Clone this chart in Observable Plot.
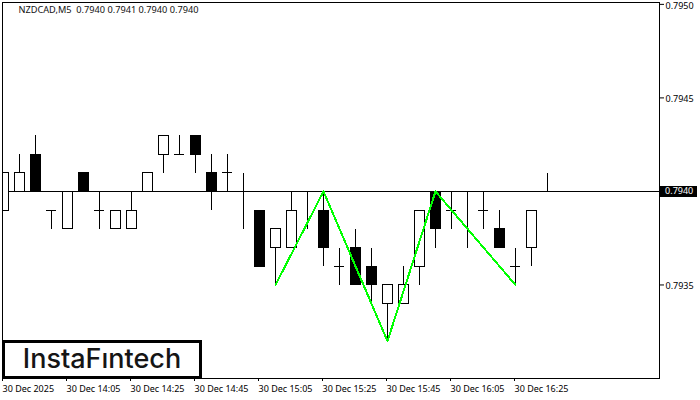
<!DOCTYPE html>
<html>
<head>
<meta charset="utf-8">
<script src="https://cdn.jsdelivr.net/npm/d3@7"></script>
<script src="https://cdn.jsdelivr.net/npm/@observablehq/plot@0.6"></script>
<style>
html,body{margin:0;padding:0;background:#fff;}
#wrap{position:relative;width:700px;height:400px;overflow:hidden;}
#logo{position:absolute;left:2px;top:340px;width:194px;height:33px;border:3px solid #000;background:#fff;
font:500 27px/31px Inter,Roboto,sans-serif;color:#151515;text-align:center;white-space:nowrap;}
</style>
</head>
<body>
<div id="wrap"><div id="logo">InstaFıntech</div></div>
<script>
const opens  = [.7939,.7940,.7942,.7939,.7938,.7941,.7939,.7938,.7938,.7940,.7942,.7942,.7943,.7941,.7941,.7940,.7939,.7937,.7937,.7940,.7939,.7936,.7937,.7936,.7934,.7934,.7936,.7940,.7939,.7940,.7939,.7938,.7936,.7937,.7940];
const closes = [.7941,.7941,.7940,.7939,.7940,.7940,.7939,.7939,.7939,.7941,.7943,.7942,.7942,.7940,.7941,.7940,.7936,.7938,.7939,.7940,.7937,.7936,.7935,.7935,.7935,.7935,.7939,.7938,.7939,.7940,.7939,.7937,.7936,.7939,.7940];
const highs  = [.7941,.7942,.7943,.7939,.7940,.7941,.7940,.7939,.7940,.7941,.7943,.7943,.7943,.7942,.7942,.7941,.7939,.7938,.7940,.7940,.7940,.7937,.7938,.7937,.7935,.7936,.7939,.7940,.7940,.7940,.7940,.7939,.7937,.7939,.7941];
const lows   = [.7939,.7940,.7940,.7938,.7938,.7940,.7938,.7938,.7938,.7940,.7941,.7942,.7941,.7939,.7940,.7938,.7936,.7935,.7937,.7938,.7936,.7935,.7935,.7934,.7932,.7934,.7935,.7937,.7938,.7937,.7938,.7937,.7935,.7936,.7940];
const patternBars   = [17,20,24,27,32];
const patternPrices = [.7935,.7940,.7932,.7940,.7935];
const priceTicks = [.7950,.7945,.7935];
const lastPrice = .7940;
const timeTickBars = [0,4,8,12,16,20,24,28,32];
const timeTickLabels = ["30 Dec 2025","30 Dec 14:05","30 Dec 14:25","30 Dec 14:45","30 Dec 15:05","30 Dec 15:25","30 Dec 15:45","30 Dec 16:05","30 Dec 16:25"];
const header = "NZDCAD,M5\u00a0\u00a00.7940 0.7941 0.7940 0.7940";

const bars = opens.map((o,i)=>({i,o,c:closes[i],h:highs[i],l:lows[i]}));
const pattern = patternBars.map((b,k)=>({b,p:patternPrices[k]}));
const halfBody = 5/16;
const font = "'Noto Sans',sans-serif";

const chart = Plot.plot({
  width:700,height:400,
  marginLeft:2,marginRight:41,marginTop:2,marginBottom:22,
  style:{background:"#fff",color:"#000",fontFamily:font,fontSize:"9px",overflow:"visible"},
  x:{type:"linear",domain:[-0.0625,41],axis:null},
  y:{domain:[0.7930,0.79501],axis:null},
  marks:[
    Plot.ruleY([lastPrice],{stroke:"#000",shapeRendering:"crispEdges"}),
    Plot.ruleX(bars,{x:"i",y1:"l",y2:"h",dy:0.5,stroke:"#000",clip:"frame",shapeRendering:"crispEdges"}),
    Plot.rect(bars.filter(d=>d.o!==d.c),{
      x1:d=>d.i-halfBody,x2:d=>d.i+halfBody,
      y1:"o",y2:"c",dy:0.5,
      fill:d=>d.c>d.o?"#fff":"#000",stroke:"#000",clip:"frame",shapeRendering:"crispEdges"}),
    Plot.ruleY(bars.filter(d=>d.o===d.c),{
      y:"o",x1:d=>d.i-halfBody,x2:d=>d.i+halfBody,stroke:"#000",clip:"frame",shapeRendering:"crispEdges"}),
    Plot.line(pattern,{x:"b",y:"p",stroke:"#00ff00",strokeWidth:2,shapeRendering:"crispEdges"}),
    Plot.frame({stroke:"#000",shapeRendering:"crispEdges"}),
    Plot.axisY({anchor:"right",ticks:priceTicks,text:null,tickSize:4,label:null,stroke:"#000"}),
    Plot.axisY({anchor:"right",ticks:priceTicks,tickFormat:d3.format(".4f"),tickSize:0,tickPadding:6,dy:1.5,label:null,fill:"#000"}),
    Plot.axisX({anchor:"bottom",ticks:timeTickBars,tickFormat:d=>timeTickLabels[timeTickBars.indexOf(d)],tickSize:3,tickPadding:4,textAnchor:"start",dx:-1,label:null,stroke:"#000",fill:"#000"}),
    Plot.ruleY([lastPrice],{x1:41.06,x2:43.4,stroke:"#000",strokeWidth:11,shapeRendering:"crispEdges"}),
    Plot.text([lastPrice],{x:41.35,y:d=>d,text:d=>d.toFixed(4),fill:"#fff",textAnchor:"start"}),
    Plot.text([header],{frameAnchor:"top-left",dx:16,dy:4,fill:"#111",textAnchor:"start",fontSize:9.2,text:d=>d})
  ]
});
document.getElementById("wrap").prepend(chart);
</script>
</body>
</html>
